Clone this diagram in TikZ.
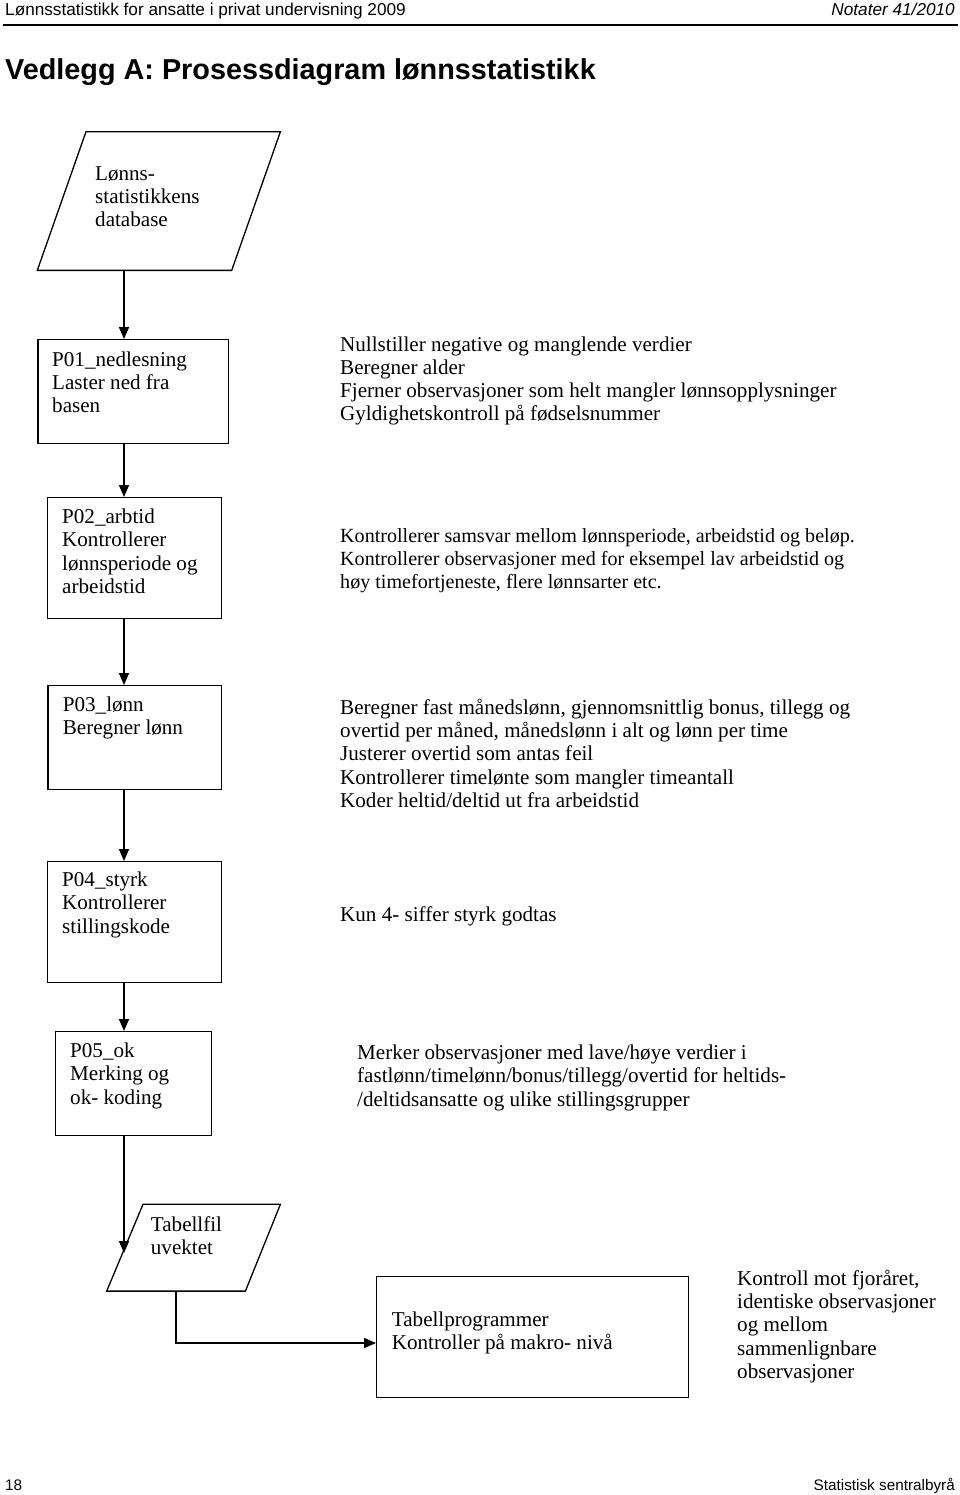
\documentclass[tikz,border=0pt]{standalone}
\usepackage{fontspec}
\setmainfont{Liberation Serif}
\newfontfamily\arial{Liberation Sans}
\usetikzlibrary{arrows.meta}
\newcommand\brod{\fontsize{21.1}{23.2}\selectfont}
\newcommand\brodsmall{\fontsize{20.1}{23}\selectfont}
\tikzset{
  boks/.style={draw, line width=1.3pt, rectangle, inner sep=0pt, anchor=north west},
  ramme/.style={rectangle, inner sep=0pt, anchor=north west},
  strek/.style={line width=1.3pt, line join=miter},
  tekst/.style={anchor=base west, inner sep=0pt, align=left, font=\brod},
  pil/.style={line width=1.5pt, -{Triangle[length=12pt,width=10pt]}}
}
\begin{document}
\begin{tikzpicture}[x=1pt,y=-1pt]
\useasboundingbox (0,0) rectangle (960,1495);
% topp og bunn
\node[anchor=base west, inner sep=0pt, font=\arial\fontsize{17.2}{20}\selectfont] (topp) at (5,16) {Lønnsstatistikk for ansatte i privat undervisning 2009};
\node[anchor=base east, inner sep=0pt, font=\arial\itshape\fontsize{17.2}{20}\selectfont] (notat) at (955,16) {Notater 41/2010};
\draw[line width=1.5pt] (3,25) -- (958,25);
\node[anchor=base west, inner sep=0pt, font=\arial\bfseries\fontsize{28.8}{32}\selectfont] (tittel) at (5,80) {Vedlegg A: Prosessdiagram lønnsstatistikk};
\node[anchor=base west, inner sep=0pt, font=\arial\fontsize{15.3}{18}\selectfont] (side) at (5,1490) {18};
\node[anchor=base east, inner sep=0pt, font=\arial\fontsize{15.3}{18}\selectfont] (ssb) at (955,1490) {Statistisk sentralbyrå};

% figurer
\node[ramme, minimum width=242.7pt, minimum height=138.3pt] (db) at (37.3,131.7) {};
\draw[strek] ([xshift=48.7pt]db.north west) -- (db.north east)
  -- ([xshift=-48.7pt]db.south east) -- (db.south west) -- cycle;
\node[boks, minimum width=190.7pt, minimum height=104pt] (p01) at (37.3,339) {};
\node[boks, minimum width=173.7pt, minimum height=121pt] (p02) at (47,497) {};
\node[boks, minimum width=173.4pt, minimum height=104pt] (p03) at (47.3,685) {};
\node[boks, minimum width=173.7pt, minimum height=121pt] (p04) at (47,861) {};
\node[boks, minimum width=155.7pt, minimum height=104pt] (p05) at (55,1031) {};
\node[ramme, minimum width=173.3pt, minimum height=86.4pt] (tab) at (106.7,1204.3) {};
\draw[strek] ([xshift=36.3pt]tab.north west) -- (tab.north east)
  -- ([xshift=-35pt]tab.south east) -- (tab.south west) -- cycle;
\node[boks, minimum width=312pt, minimum height=121pt] (prog) at (376,1276) {};

% tekster (plassert etter siste linje)
\node[tekst] (dbt) at (95,227) {Lønns-\\statistikkens\\database};
\node[tekst] (p01t) at (52,412.4) {P01\_nedlesning\\Laster ned fra\\basen};
\node[tekst] (p01b) at (340,420.6) {Nullstiller negative og manglende verdier\\Beregner alder\\Fjerner observasjoner som helt mangler lønnsopplysninger\\Gyldighetskontroll på fødselsnummer};
\node[tekst] (p02t) at (62,593.2) {P02\_arbtid\\Kontrollerer\\lønnsperiode og\\arbeidstid};
\node[tekst, font=\brodsmall] (p02b) at (340,588) {Kontrollerer samsvar mellom lønnsperiode, arbeidstid og beløp.\\Kontrollerer observasjoner med for eksempel lav arbeidstid og\\høy timefortjeneste, flere lønnsarter etc.};
\node[tekst] (p03t) at (62.7,734.2) {P03\_lønn\\Beregner lønn};
\node[tekst] (p03b) at (340,807.3) {Beregner fast månedslønn, gjennomsnittlig bonus, tillegg og\\overtid per måned, månedslønn i alt og lønn per time\\Justerer overtid som antas feil\\Kontrollerer timelønte som mangler timeantall\\Koder heltid/deltid ut fra arbeidstid};
\node[tekst] (p04t) at (62,933) {P04\_styrk\\Kontrollerer\\stillingskode};
\node[tekst] (p04b) at (340,921.5) {Kun 4- siffer styrk godtas};
\node[tekst] (p05t) at (70,1104) {P05\_ok\\Merking og\\ok- koding};
\node[tekst] (p05b) at (357,1106) {Merker observasjoner med lave/høye verdier i\\fastlønn/timelønn/bonus/tillegg/overtid for heltids-\\/deltidsansatte og ulike stillingsgrupper};
\node[tekst] (tabt) at (150.7,1254.2) {Tabellfil\\uvektet};
\node[tekst] (progt) at (391.7,1349.2) {Tabellprogrammer\\Kontroller på makro- nivå};
\node[tekst] (progb) at (737,1378.3) {Kontroll mot fjoråret,\\identiske observasjoner\\og mellom\\sammenlignbare\\observasjoner};

% piler
\coordinate (akse) at (124,0);
\coordinate (slutt) at (124,1253);
\coordinate (knekk) at (176,1343);
\draw[pil] (db.south -| akse) -- (p01.north -| akse);
\draw[pil] (p01.south -| akse) -- (p02.north -| akse);
\draw[pil] (p02.south -| akse) -- (p03.north -| akse);
\draw[pil] (p03.south -| akse) -- (p04.north -| akse);
\draw[pil] (p04.south -| akse) -- (p05.north -| akse);
\draw[pil] (p05.south -| akse) -- (slutt);
\draw[pil] (tab.south -| knekk) |- (prog.west |- knekk);
\end{tikzpicture}
\end{document}
